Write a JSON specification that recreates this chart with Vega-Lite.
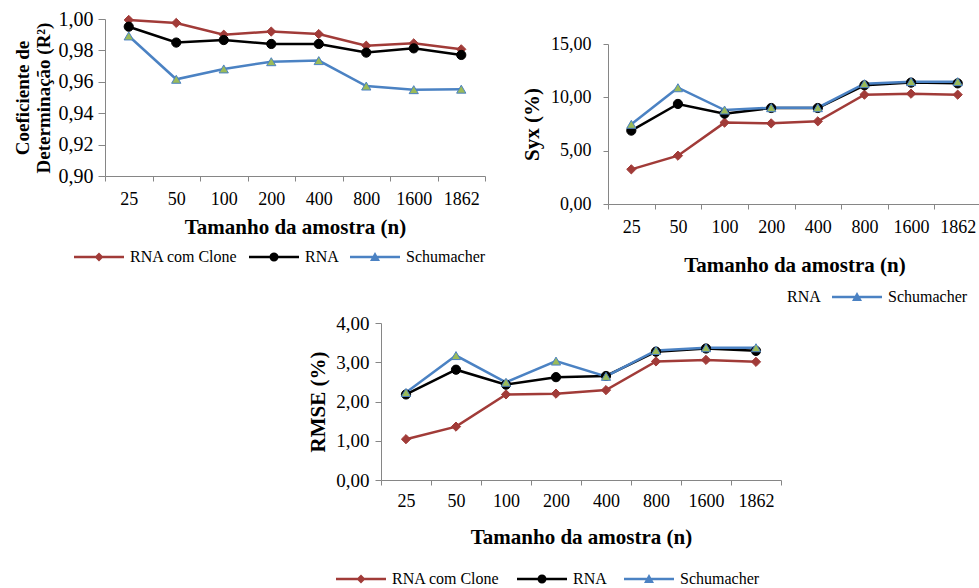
{
  "$schema": "https://vega.github.io/schema/vega-lite/v6.json",
  "background": "white",
  "padding": {"left": 13, "top": 9, "right": 0, "bottom": 0},
  "config": {
    "view": {"stroke": null},
    "font": "Liberation Serif",
    "axis": {"domainColor": "#868686", "tickColor": "#868686", "domainWidth": 1, "tickWidth": 1, "labelFont": "Liberation Serif", "labelFontSize": 18, "labelColor": "black", "titleFont": "Liberation Serif", "titleFontSize": 21, "titleFontWeight": "bold", "titleColor": "black", "grid": false, "labelOverlap": false},
    "legend": {"orient": "none", "direction": "horizontal", "title": null, "symbolSize": 100, "symbolStrokeWidth": 0, "labelFont": "Liberation Serif", "labelFontSize": 16, "labelColor": "black", "labelOffset": 23, "columnPadding": 11, "padding": 0, "labelLimit": 0}
  },
  "datasets": {
    "r2": [
      {"n": "25", "serie": "RNA com Clone", "v": 0.9994}, {"n": "50", "serie": "RNA com Clone", "v": 0.9975}, {"n": "100", "serie": "RNA com Clone", "v": 0.9900}, {"n": "200", "serie": "RNA com Clone", "v": 0.9920}, {"n": "400", "serie": "RNA com Clone", "v": 0.9904}, {"n": "800", "serie": "RNA com Clone", "v": 0.9830}, {"n": "1600", "serie": "RNA com Clone", "v": 0.9845}, {"n": "1862", "serie": "RNA com Clone", "v": 0.9807},
      {"n": "25", "serie": "RNA", "v": 0.9951}, {"n": "50", "serie": "RNA", "v": 0.9850}, {"n": "100", "serie": "RNA", "v": 0.9866}, {"n": "200", "serie": "RNA", "v": 0.9841}, {"n": "400", "serie": "RNA", "v": 0.9841}, {"n": "800", "serie": "RNA", "v": 0.9786}, {"n": "1600", "serie": "RNA", "v": 0.9813}, {"n": "1862", "serie": "RNA", "v": 0.9771},
      {"n": "25", "serie": "Schumacher", "v": 0.9892}, {"n": "50", "serie": "Schumacher", "v": 0.9616}, {"n": "100", "serie": "Schumacher", "v": 0.9682}, {"n": "200", "serie": "Schumacher", "v": 0.9728}, {"n": "400", "serie": "Schumacher", "v": 0.9735}, {"n": "800", "serie": "Schumacher", "v": 0.9573}, {"n": "1600", "serie": "Schumacher", "v": 0.9550}, {"n": "1862", "serie": "Schumacher", "v": 0.9553}
    ],
    "syx": [
      {"n": "25", "serie": "RNA com Clone", "v": 3.25}, {"n": "50", "serie": "RNA com Clone", "v": 4.53}, {"n": "100", "serie": "RNA com Clone", "v": 7.63}, {"n": "200", "serie": "RNA com Clone", "v": 7.56}, {"n": "400", "serie": "RNA com Clone", "v": 7.75}, {"n": "800", "serie": "RNA com Clone", "v": 10.25}, {"n": "1600", "serie": "RNA com Clone", "v": 10.34}, {"n": "1862", "serie": "RNA com Clone", "v": 10.25},
      {"n": "25", "serie": "RNA", "v": 6.88}, {"n": "50", "serie": "RNA", "v": 9.38}, {"n": "100", "serie": "RNA", "v": 8.47}, {"n": "200", "serie": "RNA", "v": 9.00}, {"n": "400", "serie": "RNA", "v": 9.00}, {"n": "800", "serie": "RNA", "v": 11.13}, {"n": "1600", "serie": "RNA", "v": 11.38}, {"n": "1862", "serie": "RNA", "v": 11.31},
      {"n": "25", "serie": "Schumacher", "v": 7.47}, {"n": "50", "serie": "Schumacher", "v": 10.90}, {"n": "100", "serie": "Schumacher", "v": 8.81}, {"n": "200", "serie": "Schumacher", "v": 9.03}, {"n": "400", "serie": "Schumacher", "v": 9.03}, {"n": "800", "serie": "Schumacher", "v": 11.28}, {"n": "1600", "serie": "Schumacher", "v": 11.47}, {"n": "1862", "serie": "Schumacher", "v": 11.47}
    ],
    "rmse": [
      {"n": "25", "serie": "RNA com Clone", "v": 1.04}, {"n": "50", "serie": "RNA com Clone", "v": 1.36}, {"n": "100", "serie": "RNA com Clone", "v": 2.18}, {"n": "200", "serie": "RNA com Clone", "v": 2.20}, {"n": "400", "serie": "RNA com Clone", "v": 2.29}, {"n": "800", "serie": "RNA com Clone", "v": 3.02}, {"n": "1600", "serie": "RNA com Clone", "v": 3.06}, {"n": "1862", "serie": "RNA com Clone", "v": 3.01},
      {"n": "25", "serie": "RNA", "v": 2.18}, {"n": "50", "serie": "RNA", "v": 2.81}, {"n": "100", "serie": "RNA", "v": 2.43}, {"n": "200", "serie": "RNA", "v": 2.62}, {"n": "400", "serie": "RNA", "v": 2.65}, {"n": "800", "serie": "RNA", "v": 3.27}, {"n": "1600", "serie": "RNA", "v": 3.35}, {"n": "1862", "serie": "RNA", "v": 3.29},
      {"n": "25", "serie": "Schumacher", "v": 2.23}, {"n": "50", "serie": "Schumacher", "v": 3.17}, {"n": "100", "serie": "Schumacher", "v": 2.49}, {"n": "200", "serie": "Schumacher", "v": 3.03}, {"n": "400", "serie": "Schumacher", "v": 2.64}, {"n": "800", "serie": "Schumacher", "v": 3.30}, {"n": "1600", "serie": "Schumacher", "v": 3.37}, {"n": "1862", "serie": "Schumacher", "v": 3.37}
    ]
  },
  "spacing": 9,
  "vconcat": [
    {
      "spacing": 35,
      "hconcat": [
        {
          "width": 380, "height": 157,
          "data": {"name": "r2"},
          "layer": [
            {"mark": {"type": "line", "strokeWidth": 2.5},
             "encoding": {
               "x": {"field": "n", "type": "ordinal", "bandPosition": 0.5, "scale": {"type": "band", "domain": ["25","50","100","200","400","800","1600","1862"], "paddingInner": 0, "paddingOuter": 0}, "axis": {"title": "Tamanho da amostra (n)", "labelAngle": 0, "labelOverlap": false, "tickBand": "extent", "tickSize": 5, "labelPadding": 9, "titlePadding": 8}},
               "y": {"field": "v", "type": "quantitative", "scale": {"domain": [0.9, 1.0], "nice": false, "zero": false}, "axis": {"title": ["Coeficiente de", "Determinação (R²)"], "titleFontSize": 19, "titleLineHeight": 21, "values": [0.9, 0.92, 0.94, 0.96, 0.98, 1.0], "tickCount": 20, "labelExpr": "replace(format(datum.value, '.2f'), '.', ',')", "labelOverlap": false, "labelFontSize": 20, "tickSize": 7, "labelPadding": 5, "titlePadding": 5}},
               "stroke": {"field": "serie", "type": "nominal", "scale": {"domain": ["RNA com Clone","RNA","Schumacher"], "range": ["#A13B38","#000000","#4B82C3"]}, "legend": null}
             }},
            {"mark": {"type": "point", "filled": true, "opacity": 1, "strokeWidth": 1, "size": 85},
             "encoding": {
               "x": {"field": "n", "type": "ordinal", "bandPosition": 0.5},
               "y": {"field": "v", "type": "quantitative"},
               "shape": {"field": "serie", "type": "nominal", "scale": {"domain": ["RNA com Clone","RNA","Schumacher"], "range": ["diamond","circle","triangle-up"]}, "legend": null},
               "fill": {"field": "serie", "type": "nominal", "scale": {"domain": ["RNA com Clone","RNA","Schumacher"], "range": ["#A13B38","#000000","#9BBB59"]}, "legend": null},
               "stroke": {"field": "serie", "type": "nominal", "legend": null}
             }},
            {"data": {"values": []},
             "mark": {"type": "point", "filled": true, "opacity": 1, "size": 100},
             "encoding": {
               "color": {"field": "serie", "type": "nominal", "scale": {"domain": ["RNA com Clone","RNA","Schumacher"], "range": ["#A13B38","#000000","#4B82C3"]}, "legend": {"legendX": -14, "legendY": 230}},
               "shape": {"field": "serie", "type": "nominal", "scale": {"domain": ["RNA com Clone","RNA","Schumacher"], "range": ["M-5,-0.25H5V0.25H-5Z M0,-0.9L0.9,0L0,0.9L-0.9,0Z", "M-5,-0.25H5V0.25H-5Z M-0.9,0A0.9,0.9 0 1,1 0.9,0A0.9,0.9 0 1,1 -0.9,0Z", "M-5,-0.25H5V0.25H-5Z M0,-1L1,0.8L-1,0.8Z"]}, "legend": {"legendX": -14, "legendY": 230}}
             }}
          ],
          "resolve": {"scale": {"color": "independent", "shape": "independent"}, "legend": {"color": "independent", "shape": "independent"}}
        },
        {
          "spacing": 15,
          "vconcat": [
            {"width": 1, "height": 1, "data": {"values": []}, "mark": "point", "encoding": {}},
            {
              "width": 373, "height": 160,
              "data": {"name": "syx"},
              "layer": [
                {"mark": {"type": "line", "strokeWidth": 2.5},
                 "encoding": {
                   "x": {"field": "n", "type": "ordinal", "bandPosition": 0.5, "scale": {"type": "band", "domain": ["25","50","100","200","400","800","1600","1862"], "paddingInner": 0, "paddingOuter": 0}, "axis": {"title": "Tamanho da amostra (n)", "labelAngle": 0, "labelOverlap": false, "tickBand": "extent", "tickSize": 5, "labelPadding": 9, "titlePadding": 18}},
                   "y": {"field": "v", "type": "quantitative", "scale": {"domain": [0, 15], "nice": false}, "axis": {"title": "Syx (%)", "values": [0, 5, 10, 15], "tickCount": 20, "labelExpr": "replace(format(datum.value, '.2f'), '.', ',')", "labelOverlap": false, "tickSize": 5, "labelPadding": 12, "titlePadding": 8}},
                   "stroke": {"field": "serie", "type": "nominal", "scale": {"domain": ["RNA com Clone","RNA","Schumacher"], "range": ["#A13B38","#000000","#4B82C3"]}, "legend": null}
                 }},
                {"mark": {"type": "point", "filled": true, "opacity": 1, "strokeWidth": 1, "size": 85},
                 "encoding": {
                   "x": {"field": "n", "type": "ordinal", "bandPosition": 0.5},
                   "y": {"field": "v", "type": "quantitative"},
                   "shape": {"field": "serie", "type": "nominal", "scale": {"domain": ["RNA com Clone","RNA","Schumacher"], "range": ["diamond","circle","triangle-up"]}, "legend": null},
                   "fill": {"field": "serie", "type": "nominal", "scale": {"domain": ["RNA com Clone","RNA","Schumacher"], "range": ["#A13B38","#000000","#9BBB59"]}, "legend": null},
                   "stroke": {"field": "serie", "type": "nominal", "legend": null}
                 }},
                {"data": {"values": []},
                 "mark": {"type": "point", "filled": true, "opacity": 1, "size": 100},
                 "encoding": {
                   "color": {"field": "serie", "type": "nominal", "scale": {"domain": ["RNA com Clone","RNA","Schumacher"], "range": ["#A13B38","#000000","#4B82C3"]}, "legend": {"legendX": 140, "legendY": 245, "values": ["RNA","Schumacher"]}},
                   "shape": {"field": "serie", "type": "nominal", "scale": {"domain": ["RNA com Clone","RNA","Schumacher"], "range": ["M0,0Z", "M0,0Z", "M-5,-0.25H5V0.25H-5Z M0,-1L1,0.8L-1,0.8Z"]}, "legend": {"legendX": 140, "legendY": 245, "values": ["RNA","Schumacher"]}}
                 }}
              ],
              "resolve": {"scale": {"color": "independent", "shape": "independent"}, "legend": {"color": "independent", "shape": "independent"}}
            }
          ]
        }
      ]
    },
    {
      "spacing": 201,
      "hconcat": [
        {"width": 1, "height": 1, "data": {"values": []}, "mark": "point", "encoding": {}},
        {
          "width": 400, "height": 157,
          "data": {"name": "rmse"},
          "layer": [
            {"mark": {"type": "line", "strokeWidth": 2.5},
             "encoding": {
               "x": {"field": "n", "type": "ordinal", "bandPosition": 0.5, "scale": {"type": "band", "domain": ["25","50","100","200","400","800","1600","1862"], "paddingInner": 0, "paddingOuter": 0}, "axis": {"title": "Tamanho da amostra (n)", "labelAngle": 0, "labelOverlap": false, "tickBand": "extent", "tickSize": 5, "labelPadding": 7, "titlePadding": 16}},
               "y": {"field": "v", "type": "quantitative", "scale": {"domain": [0, 4], "nice": false}, "axis": {"title": "RMSE (%)", "values": [0, 1, 2, 3, 4], "tickCount": 20, "labelExpr": "replace(format(datum.value, '.2f'), '.', ',')", "labelOverlap": false, "labelFontSize": 19, "tickSize": 6, "labelPadding": 6, "titlePadding": 7}},
               "stroke": {"field": "serie", "type": "nominal", "scale": {"domain": ["RNA com Clone","RNA","Schumacher"], "range": ["#A13B38","#000000","#4B82C3"]}, "legend": null}
             }},
            {"mark": {"type": "point", "filled": true, "opacity": 1, "strokeWidth": 1, "size": 85},
             "encoding": {
               "x": {"field": "n", "type": "ordinal", "bandPosition": 0.5},
               "y": {"field": "v", "type": "quantitative"},
               "shape": {"field": "serie", "type": "nominal", "scale": {"domain": ["RNA com Clone","RNA","Schumacher"], "range": ["diamond","circle","triangle-up"]}, "legend": null},
               "fill": {"field": "serie", "type": "nominal", "scale": {"domain": ["RNA com Clone","RNA","Schumacher"], "range": ["#A13B38","#000000","#9BBB59"]}, "legend": null},
               "stroke": {"field": "serie", "type": "nominal", "legend": null}
             }},
            {"data": {"values": []},
             "mark": {"type": "point", "filled": true, "opacity": 1, "size": 100},
             "encoding": {
               "color": {"field": "serie", "type": "nominal", "scale": {"domain": ["RNA com Clone","RNA","Schumacher"], "range": ["#A13B38","#000000","#4B82C3"]}, "legend": {"legendX": -28, "legendY": 248, "columnPadding": 17}},
               "shape": {"field": "serie", "type": "nominal", "scale": {"domain": ["RNA com Clone","RNA","Schumacher"], "range": ["M-5,-0.25H5V0.25H-5Z M0,-0.9L0.9,0L0,0.9L-0.9,0Z", "M-5,-0.25H5V0.25H-5Z M-0.9,0A0.9,0.9 0 1,1 0.9,0A0.9,0.9 0 1,1 -0.9,0Z", "M-5,-0.25H5V0.25H-5Z M0,-1L1,0.8L-1,0.8Z"]}, "legend": {"legendX": -28, "legendY": 248, "columnPadding": 17}}
             }}
          ],
          "resolve": {"scale": {"color": "independent", "shape": "independent"}, "legend": {"color": "independent", "shape": "independent"}}
        }
      ]
    }
  ]
}
